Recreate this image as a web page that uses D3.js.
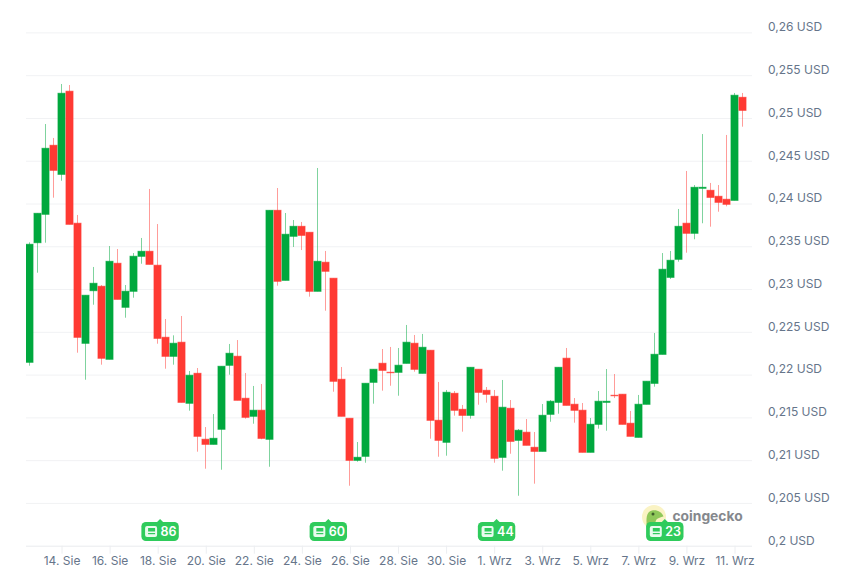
<!DOCTYPE html>
<html><head><meta charset="utf-8">
<script src="https://cdn.jsdelivr.net/npm/d3@7/dist/d3.min.js"></script>
<style>html,body{margin:0;padding:0;background:#fff}svg{display:block}
text{font-family:Inter,"Noto Sans",sans-serif}</style></head>
<body><svg id="c" width="850" height="581"></svg>
<script>
const opens=[.22144,.23542,.23874,.2468,.24341,.25312,.23769,.22366,.22981,.23032,.22179,.23301,.22787,.22974,.23383,.23441,.23278,.22436,.22214,.22378,.21665,.22015,.21244,.21185,.21361,.22109,.22214,.21723,.21513,.21583,.21244,.2392,.23102,.23617,.23733,.23663,.22974,.23313,.23126,.21945,.21489,.20998,.21045,.2191,.22132,.22027,.22027,.22132,.22366,.22015,.22284,.21466,.21209,.21781,.21594,.21524,.22062,.21816,.21746,.21033,.21606,.21232,.21326,.2115,.21103,.21536,.21676,.22191,.21653,.21583,.21092,.21419,.21676,.21758,.2177,.21431,.21267,.21653,.21898,.22237,.23137,.23348,.23769,.23652,.24178,.24154,.24084,.24049,.24037,.25241];
const highs=[.23546,.23885,.24929,.24766,.25397,.25385,.23866,.22927,.23258,.23047,.23503,.23468,.23047,.23421,.23597,.2417,.2376,.2265,.22459,.22685,.22042,.22077,.21387,.21539,.22097,.22358,.22404,.22019,.21867,.2189,.2392,.24181,.23889,.23807,.23784,.23663,.24415,.23445,.23126,.22089,.21489,.21212,.21898,.22062,.22299,.22323,.22311,.2258,.22463,.22475,.22284,.21914,.2182,.21808,.21645,.22085,.22062,.21855,.2182,.21937,.21703,.21364,.21481,.21329,.21656,.21703,.22085,.22311,.21726,.21668,.21493,.21808,.22065,.22007,.2177,.21575,.21762,.21922,.22486,.23421,.23445,.23936,.2438,.24216,.24812,.2424,.24216,.24801,.25292,.25292];
const lows=[.22104,.23191,.23542,.24068,.24266,.23757,.22256,.2194,.22817,.22116,.22179,.2288,.22665,.22899,.23296,.23289,.22361,.22069,.22116,.21676,.21578,.21099,.209,.21185,.20888,.21999,.217,.21485,.21426,.21244,.20923,.23039,.23102,.23492,.23456,.22911,.22974,.22747,.218,.21513,.20701,.20982,.2097,.2166,.21812,.2187,.21753,.22132,.22034,.22015,.21251,.2104,.21052,.2152,.21333,.21485,.21648,.21672,.2097,.20877,.21075,.20584,.21174,.20725,.21103,.21449,.21543,.21641,.21438,.21092,.21092,.21368,.21344,.21726,.21419,.21279,.21267,.21653,.21859,.22237,.23117,.2332,.23425,.23582,.23769,.23729,.23904,.23967,.24037,.24898];
const closes=[.23523,.23885,.24645,.24388,.25288,.23757,.22436,.22927,.23067,.22191,.23324,.2288,.22974,.23383,.23441,.23289,.22424,.22214,.22366,.21676,.21992,.21279,.21185,.21255,.22097,.22249,.217,.21501,.21583,.21255,.2392,.23091,.2364,.23733,.23628,.22974,.23324,.23208,.21922,.21513,.20998,.21033,.21898,.22062,.2205,.22022,.22109,.22378,.22062,.22319,.21466,.21232,.21793,.21583,.21524,.22085,.21793,.2177,.21022,.21618,.2122,.21349,.21174,.21103,.21524,.21688,.22085,.21641,.21583,.21092,.21419,.21688,.21688,.21753,.21419,.21279,.21653,.21922,.22237,.23231,.23336,.23733,.23652,.24189,.24189,.24072,.24014,.23991,.25265,.25089];
const yTicks=[.2,.205,.21,.215,.22,.225,.23,.235,.24,.245,.25,.255,.26];
const yTickLabels=["0,2 USD","0,205 USD","0,21 USD","0,215 USD","0,22 USD","0,225 USD","0,23 USD","0,235 USD","0,24 USD","0,245 USD","0,25 USD","0,255 USD","0,26 USD"];
const xTickIndex=[4,10,16,22,28,34,40,46,52,58,64,70,76,82,88];
const xTickLabels=["14. Sie","16. Sie","18. Sie","20. Sie","22. Sie","24. Sie","26. Sie","28. Sie","30. Sie","1. Wrz","3. Wrz","5. Wrz","7. Wrz","9. Wrz","11. Wrz"];
const flagIndex=[16.3,37.3,58.3,79.3];
const flagLabels=["86","60","44","23"];

const GREEN="#00a83e",RED="#ff3a33",GRID="#f1f2f4",TXT="#66758a";
const svg=d3.select("#c");
const x=d3.scaleLinear().domain([0,88]).range([29.5,734.5]);
const y=d3.scaleLinear().domain([.2,.26]).range([545.7,32.4]);
const L=26,R=752;

svg.append("clipPath").attr("id","plot").append("rect").attr("x",L).attr("y",0).attr("width",R-L).attr("height",546);

// grid + y labels
const yAxis=svg.append("g").attr("transform",`translate(${R},0)`)
  .call(d3.axisRight(y).tickValues(yTicks).tickFormat((d,i)=>yTickLabels[i]).tickSize(-(R-L)).tickPadding(16));
yAxis.select(".domain").remove();
yAxis.selectAll(".tick line").attr("stroke",GRID).attr("stroke-width",1);
yAxis.selectAll(".tick text").attr("fill",TXT).attr("font-size",12).attr("font-family","Inter").attr("text-anchor","start").attr("y",-5.5).attr("dy","0.32em");
yAxis.selectAll(".tick").filter((d,i)=>i===0).select("line").attr("stroke","#e9ebee");

// x axis
const xAxis=svg.append("g").attr("transform","translate(0,545.7)")
  .call(d3.axisBottom(x).tickValues(xTickIndex).tickFormat((d,i)=>xTickLabels[i]).tickSize(8).tickPadding(3));
xAxis.select(".domain").remove();
xAxis.selectAll(".tick line").attr("stroke","#eceef1");
xAxis.selectAll(".tick text").attr("fill",TXT).attr("font-size",12).attr("font-family","Inter");

// candles
const data=d3.range(opens.length).map(i=>({i,o:opens[i],h:highs[i],l:lows[i],c:closes[i]}));
const bw=7;
const g=svg.append("g").attr("clip-path","url(#plot)");
const col=d=>d.c>=d.o?GREEN:RED;
g.selectAll("line.w").data(data).join("line").attr("class","w")
  .attr("x1",d=>Math.round(x(d.i)-.5)+.5).attr("x2",d=>Math.round(x(d.i)-.5)+.5)
  .attr("y1",d=>y(d.h)).attr("y2",d=>y(d.l))
  .attr("stroke",col).attr("stroke-opacity",.5).attr("stroke-width",1);
g.selectAll("rect.b").data(data).join("rect").attr("class","b")
  .attr("x",d=>Math.round(x(d.i)-.5)+.5-bw/2).attr("width",bw)
  .attr("y",d=>y(Math.max(d.o,d.c))).attr("height",d=>Math.abs(y(d.o)-y(d.c)))
  .attr("fill",col).attr("stroke",col).attr("stroke-opacity",.75).attr("stroke-width",1);

// watermark
const wm=svg.append("g");
wm.append("circle").attr("cx",654).attr("cy",517).attr("r",12).attr("fill","#faf3c4");
wm.append("path").attr("d","M647 527C646 519 646 512 652 510.5C657 509.5 662 512 663.5 516.5C660 517.5 656 518 655.5 522L656 527Z").attr("fill","#8fc85a");
wm.append("circle").attr("cx",653).attr("cy",514).attr("r",1.5).attr("fill","#3f5f2a");
wm.append("text").attr("x",672.5).attr("y",521).attr("font-family","Inter").attr("font-weight",700).attr("font-size",13.8).attr("fill","#85888d").text("coingecko");

// news flags
const fl=svg.append("g").selectAll("g").data(flagIndex).join("g").attr("transform",d=>`translate(${x(d)},0)`);
fl.append("rect").attr("x",-18.7).attr("y",522).attr("width",37.4).attr("height",19).attr("rx",4.5).attr("fill","#2fcb5c");
fl.append("path").attr("d","M-3 522L0 519L3 522Z").attr("fill","#2fcb5c");
fl.append("rect").attr("x",-15).attr("y",526).attr("width",12).attr("height",11).attr("rx",2).attr("fill","#e9fbef");
fl.append("rect").attr("x",-12).attr("y",528).attr("width",7).attr("height",3.5).attr("fill","#2fcb5c");
fl.append("rect").attr("x",-12).attr("y",533).attr("width",7).attr("height",1.2).attr("fill","#2fcb5c");
fl.append("text").attr("x",0.5).attr("y",536).attr("font-family","Inter").attr("font-weight",600).attr("font-size",12.5).attr("fill","#fff").text((d,i)=>flagLabels[i]);
</script></body></html>
